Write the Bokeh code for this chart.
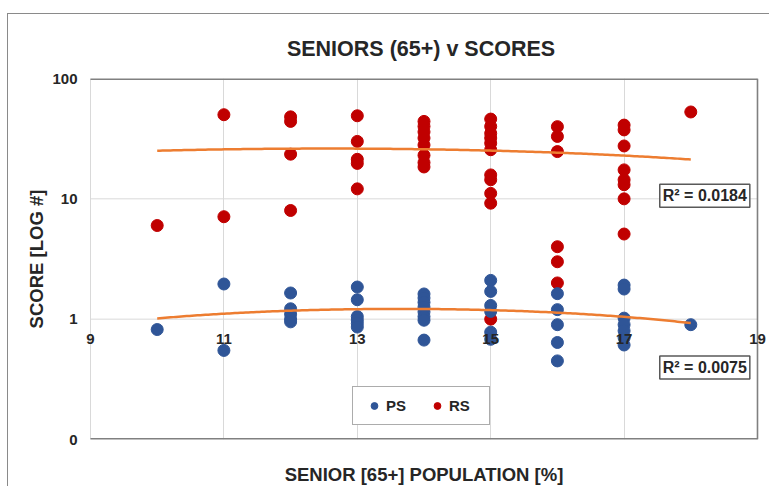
import numpy as np
from bokeh.plotting import figure
from bokeh.models import (Range1d, FixedTicker, CustomJSTickFormatter, Label,
                          Legend, LegendItem)
from bokeh.embed import file_html
from bokeh.resources import INLINE

# ---------------- data ----------------
title_text = "SENIORS  (65+) v SCORES"
x_label = "SENIOR [65+] POPULATION [%]"
y_label = "SCORE [LOG #]"
x_ticks = [9, 11, 13, 15, 17, 19]
y_ticks = [0.1, 1, 10, 100]
y_tick_labels = ["0", "1", "10", "100"]
x_axis_cross = 1          # horizontal axis crosses the log axis at 1

ps_x = [10,
        11, 11,
        12, 12, 12, 12, 12,
        13, 13, 13, 13, 13, 13,
        14, 14, 14, 14, 14, 14, 14, 14,
        15, 15, 15, 15, 15, 15,
        16, 16, 16, 16, 16,
        17, 17, 17, 17, 17, 17, 17,
        18]
ps_y = [0.82,
        1.96, 0.55,
        1.65, 1.22, 1.1, 1.0, 0.95,
        1.85, 1.45, 1.05, 0.98, 0.92, 0.86,
        1.62, 1.5, 1.38, 1.26, 1.15, 1.05, 0.98, 0.67,
        2.1, 1.7, 1.3, 1.16, 0.78, 0.68,
        1.63, 1.2, 0.9, 0.64, 0.45,
        1.92, 1.78, 1.02, 0.9, 0.8, 0.7, 0.61,
        0.9]

rs_x = [10,
        11, 11,
        12, 12, 12, 12,
        13, 13, 13, 13, 13,
        14, 14, 14, 14, 14, 14, 14, 14,
        15, 15, 15, 15, 15, 15, 15, 15, 15, 15, 15,
        16, 16, 16, 16, 16, 16,
        17, 17, 17, 17, 17, 17, 17, 17,
        18]
rs_y = [6.0,
        50, 7.1,
        48, 44, 23.5, 8.0,
        49, 30, 21.3, 19.7, 12.1,
        44, 40, 36, 32, 28, 23, 20, 18.4,
        46, 40, 35, 32, 29, 25.6, 15.8, 14.4, 11.1, 9.2, 1.0,
        39.8, 33, 24.7, 4.0, 3.0, 2.0,
        41, 37.4, 27.5, 17.4, 14.4, 13.1, 10, 5.1,
        52.7]

r2_rs_text = "R² = 0.0184"
r2_ps_text = "R² = 0.0075"

PS_COLOR = "#2F5597"
RS_COLOR = "#C00000"
TREND_COLOR = "#ED7D31"
TEXT_COLOR = "#262626"
BORDER_COLOR = "#808080"
GRID_COLOR = "#d9d9d9"
FONT = "Liberation Sans"

# the visible plot area spans 9..19; a little extra room at the sides lets the
# edge tick labels ("9", "19") show in full
x_lo, x_hi = x_ticks[0], x_ticks[-1]
y_lo, y_hi = y_ticks[0], y_ticks[-1]
side_room = 0.18

# ---------------- figure ----------------
p = figure(width=762, height=473, output_backend="svg", toolbar_location=None,
           x_range=Range1d(x_lo - side_room, x_hi + side_room),
           y_range=Range1d(y_lo, y_hi), y_axis_type="log",
           min_border_left=70, min_border_right=1, min_border_top=64,
           min_border_bottom=47, background_fill_color="white",
           border_fill_color="white")
p.margin = (13, 0, 0, 7)
p.styles = {"border-left": "1px solid #8a8a8a", "border-top": "1px solid #8a8a8a"}

p.title.text = title_text
p.title.align = "center"
p.title.text_font = FONT
p.title.text_font_size = "21.5px"
p.title.text_font_style = "bold"
p.title.text_color = TEXT_COLOR
p.title.standoff = 35

p.outline_line_color = None

# grids: vertical lines from the grid, horizontal ones only across 9..19
p.xgrid.ticker = FixedTicker(ticks=x_ticks)
p.xgrid.grid_line_color = GRID_COLOR
p.xgrid.grid_line_width = 1
p.ygrid.visible = False
inner_y = y_ticks[1:-1]
p.multi_line(xs=[[x_lo, x_hi] for _ in inner_y], ys=[[t, t] for t in inner_y],
             line_color=GRID_COLOR, line_width=1)

# plot-area border: top, right and bottom edges
p.multi_line(xs=[[x_lo, x_hi], [x_hi, x_hi], [x_lo, x_hi]],
             ys=[[y_hi, y_hi], [y_lo, y_hi], [y_lo, y_lo]],
             line_color=BORDER_COLOR, line_width=[3.2, 1.6, 3.2])

# y axis
yax = p.yaxis[0]
yax.ticker = FixedTicker(ticks=y_ticks)
yax.formatter = CustomJSTickFormatter(
    args=dict(tvals=y_ticks, tlabels=y_tick_labels),
    code="""
    for (let i = 0; i < tvals.length; i++) {
        if (Math.abs(Math.log10(tvals[i]) - Math.log10(tick)) < 1e-6) return tlabels[i];
    }
    return '';
    """)
yax.axis_line_color = None
yax.major_tick_line_color = None
yax.minor_tick_line_color = None
yax.major_tick_out = 0
yax.major_label_standoff = 1
yax.major_label_text_font = FONT
yax.major_label_text_font_size = "15px"
yax.major_label_text_font_style = "bold"
yax.major_label_text_color = TEXT_COLOR
yax.axis_label = y_label
yax.axis_label_standoff = 2
yax.axis_label_text_font = FONT
yax.axis_label_text_font_size = "18.5px"
yax.axis_label_text_font_style = "bold"
yax.axis_label_text_color = TEXT_COLOR

# bottom axis: only its title
xax = p.xaxis[0]
xax.ticker = FixedTicker(ticks=[])
xax.axis_line_color = None
xax.major_tick_line_color = None
xax.minor_tick_line_color = None
xax.major_tick_out = 0
xax.axis_label = x_label
xax.axis_label_standoff = 24
xax.axis_label_text_font = FONT
xax.axis_label_text_font_size = "18.5px"
xax.axis_label_text_font_style = "bold"
xax.axis_label_text_color = TEXT_COLOR

# points (small copies underneath serve as the legend glyphs)
leg_rs = p.scatter(x=rs_x, y=rs_y, size=7, fill_color=RS_COLOR, line_color=RS_COLOR)
leg_ps = p.scatter(x=ps_x, y=ps_y, size=7, fill_color=PS_COLOR, line_color=PS_COLOR)
p.scatter(x=rs_x, y=rs_y, size=12, fill_color=RS_COLOR, line_color=RS_COLOR)
p.scatter(x=ps_x, y=ps_y, size=12, fill_color=PS_COLOR, line_color=PS_COLOR)

# polynomial (order 2) trend lines, fitted on the values themselves
def trend(xs, ys):
    c = np.polyfit(np.array(xs, float), np.array(ys, float), 2)
    xx = np.linspace(min(xs), max(xs), 200)
    return xx, np.polyval(c, xx)

tx, ty = trend(rs_x, rs_y)
p.line(tx, ty, line_color=TREND_COLOR, line_width=2.5)
tx, ty = trend(ps_x, ps_y)
p.line(tx, ty, line_color=TREND_COLOR, line_width=2.5)

# horizontal-axis tick labels where it crosses the log axis (y = 1)
for t in x_ticks:
    p.add_layout(Label(x=t, y=x_axis_cross, text=str(t), y_offset=-20,
                       text_align="center", text_baseline="middle",
                       text_font=FONT, text_font_size="15px",
                       text_font_style="bold", text_color=TEXT_COLOR))

# R² boxes
for txt, yy in ((r2_rs_text, 10.6), (r2_ps_text, 0.396)):
    p.add_layout(Label(x=18.21, y=yy, text=txt, text_align="center",
                       text_baseline="middle", text_font=FONT,
                       text_font_size="16px", text_font_style="bold",
                       text_color=TEXT_COLOR, border_line_color="#595959",
                       border_line_width=1.5, background_fill_color="white",
                       padding=3))

legend = Legend(items=[LegendItem(label="PS", renderers=[leg_ps]),
                       LegendItem(label="RS", renderers=[leg_rs])],
                orientation="horizontal", location=(274, 14),
                border_line_color="#595959", border_line_width=1.5,
                background_fill_color="white", background_fill_alpha=1,
                padding=10, spacing=10, margin=0,
                glyph_width=22, glyph_height=17, label_width=30, label_standoff=1,
                label_text_font=FONT, label_text_font_size="15px",
                label_text_font_style="bold", label_text_color=TEXT_COLOR)
p.add_layout(legend)

open("out.html", "w").write(file_html(p, INLINE))
